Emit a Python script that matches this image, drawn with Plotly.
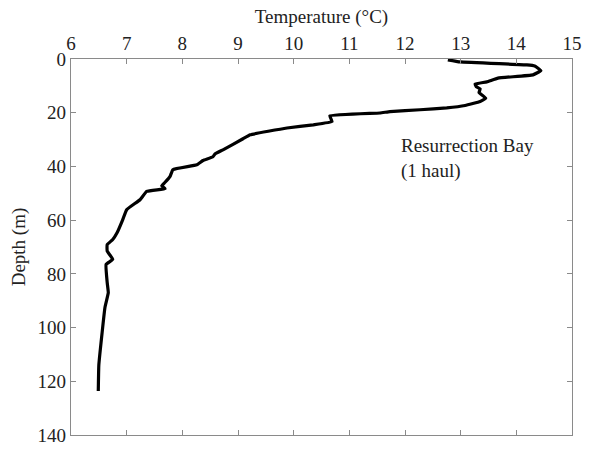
import plotly.graph_objects as go

# CTD temperature profile, Resurrection Bay
temperature_c = [12.77, 12.99, 14.19, 14.33, 14.44, 14.30, 13.67, 13.47, 13.26, 13.28,
                 13.35, 13.33, 13.45, 13.35, 13.08, 12.75, 12.27, 11.73, 11.55, 10.65,
                 10.69, 10.35, 9.88, 9.22, 9.09, 8.73, 8.59, 8.55, 8.37, 8.26,
                 7.83, 7.78, 7.69, 7.63, 7.69, 7.36, 7.24, 7.00, 6.93, 6.83,
                 6.75, 6.65, 6.65, 6.75, 6.63, 6.65, 6.67, 6.61, 6.56, 6.50, 6.49]
depth_m = [0.3, 1.1, 2.2, 2.6, 4.3, 5.9, 7.1, 8.5, 9.3, 10.3,
           11.1, 12.5, 14.6, 15.8, 17.3, 18.2, 18.9, 19.6, 20.1, 21.2,
           23.3, 24.5, 25.7, 28.2, 29.7, 33.8, 35.3, 36.4, 37.8, 39.4,
           41.2, 43.7, 45.9, 47.2, 48.3, 49.3, 52.4, 56.1, 59.8, 64.6,
           67.2, 69.1, 71.5, 74.6, 76.5, 83.2, 87.0, 92.5, 101.7, 114.0, 123.6]

x_ticks = list(range(6, 16))
y_ticks = list(range(0, 141, 20))

font = dict(family="Liberation Serif, Times New Roman, serif", size=19, color="#222")

fig = go.Figure(go.Scatter(
    x=temperature_c, y=depth_m, mode="lines",
    line=dict(color="black", width=3.2, shape="spline", smoothing=0.3),
    showlegend=False,
))

axis_common = dict(showline=True, linecolor="#8a8a8a", linewidth=1.2, mirror="ticks",
                   ticks="inside", ticklen=5, tickcolor="#8a8a8a", showgrid=False,
                   zeroline=False, tickfont=font, automargin=False)

fig.update_layout(
    width=590, height=451,
    margin=dict(l=71, r=18, t=59, b=16),
    plot_bgcolor="white", paper_bgcolor="white",
    font=font,
    xaxis=dict(range=[6, 15], side="top", tickvals=x_ticks,
               title=dict(text="Temperature (°C)", font=font, standoff=4),
               **axis_common),
    yaxis=dict(range=[140, 0], tickvals=y_ticks,
               title=dict(text="Depth (m)", font=font, standoff=6),
               **axis_common),
    annotations=[dict(x=11.9, y=37, xref="x", yref="y", xanchor="left", yanchor="middle",
                      align="left", showarrow=False, font=font,
                      text="Resurrection Bay<br>(1 haul)")],
)

fig.write_html("out.html")
